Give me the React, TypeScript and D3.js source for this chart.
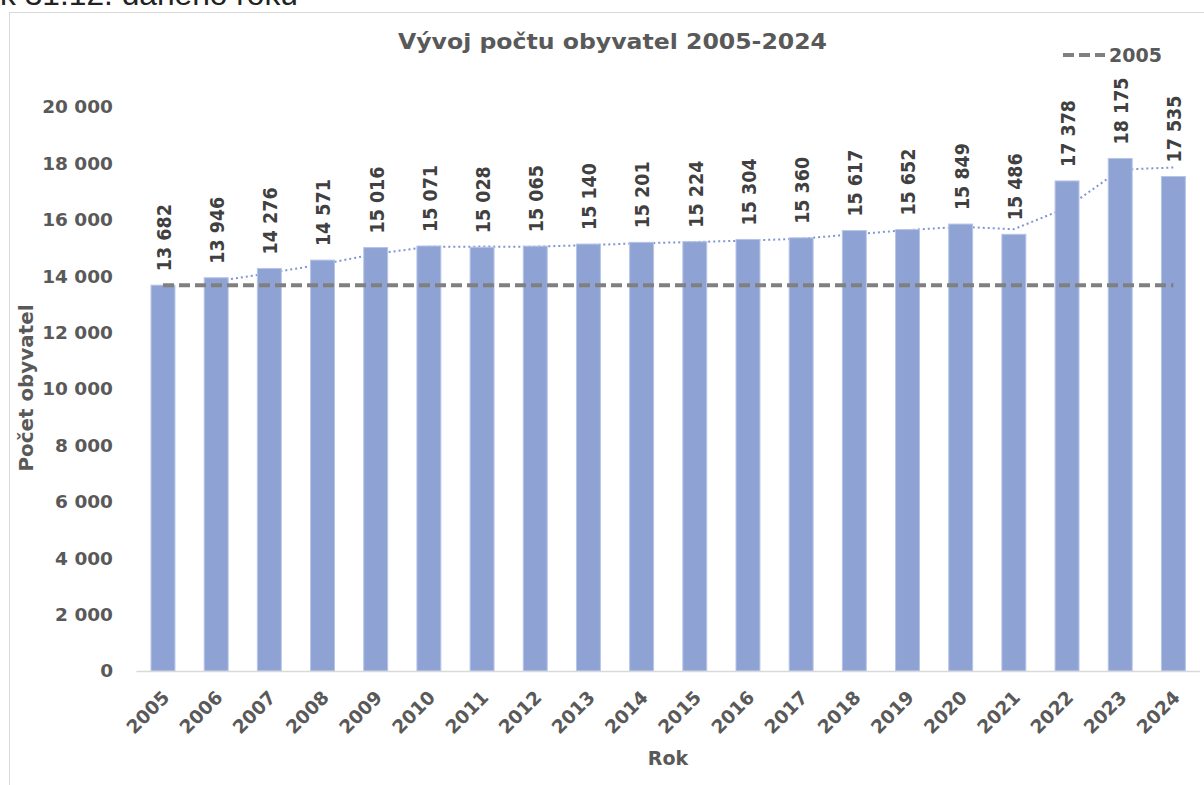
import React from "react";
import * as d3 from "d3";

const years = ["2005","2006","2007","2008","2009","2010","2011","2012","2013","2014","2015","2016","2017","2018","2019","2020","2021","2022","2023","2024"];
const population = [13682,13946,14276,14571,15016,15071,15028,15065,15140,15201,15224,15304,15360,15617,15652,15849,15486,17378,18175,17535];
const yTicks = [0,2000,4000,6000,8000,10000,12000,14000,16000,18000,20000];
const baselineLabel = "2005";
const title = "Vývoj počtu obyvatel 2005-2024";
const yTitle = "Počet obyvatel";
const xTitle = "Rok";
const topNote = "k 31.12. daného roku";

const W = 1204, H = 785;
const fmt = (v: number) => d3.format(",")(v).replace(/,/g, " ");

export default function App() {
  const x = d3.scaleBand<string>().domain(years).range([136.4, 1200]).paddingInner(0.55).paddingOuter(0.275);
  const y = d3.scaleLinear().domain([0, 20000]).range([671, 107]);
  const cx = (yr: string) => (x(yr) as number) + x.bandwidth() / 2;

  // 2-period moving average trendline
  const ma = population.slice(1).map((v, i) => ({ yr: years[i + 1], v: (v + population[i]) / 2 }));
  const trend = d3.line<{ yr: string; v: number }>().x(d => cx(d.yr)).y(d => y(d.v));
  const base = population[0];
  const baseLine = d3.line<string>().x(d => cx(d)).y(() => y(base));

  const font = "'DejaVu Sans', sans-serif";
  return (
    <div style={{ position: "absolute", left: 0, top: 0 }}>
      <svg width={W} height={H} style={{ display: "block", background: "#fff" }}>
        <text x={0} y={5} fontFamily="'Liberation Sans', sans-serif" fontSize={31} fill="#222" textLength={298} lengthAdjust="spacingAndGlyphs">{topNote}</text>
        <rect x={9.5} y={12.5} width={1210} height={800} fill="#fff" stroke="#d9d9d9" strokeWidth={1} />
        <text x={612.5} y={49} textAnchor="middle" fontFamily={font} fontWeight="bold" fontSize={21.5} fill="#595959" textLength={429} lengthAdjust="spacingAndGlyphs">{title}</text>
        {/* legend */}
        <line x1={1063} x2={1105} y1={55} y2={55} stroke="#808080" strokeWidth={4} strokeDasharray="11,5" />
        <text x={1109} y={62} fontFamily={font} fontWeight="bold" fontSize={19} fill="#595959">{baselineLabel}</text>
        {/* y ticks */}
        {yTicks.map(t => (
          <text key={t} x={113} y={y(t)} dy="0.35em" textAnchor="end" fontFamily={font} fontWeight="bold" fontSize={18.5} fill="#595959">{fmt(t)}</text>
        ))}
        <text transform={`translate(33,388) rotate(-90)`} textAnchor="middle" fontFamily={font} fontWeight="bold" fontSize={19} fill="#595959" textLength={167} lengthAdjust="spacingAndGlyphs">{yTitle}</text>
        {/* trendline behind bars */}
        <path d={trend(ma) || ""} fill="none" stroke="#7f96d4" strokeWidth={2} strokeDasharray="2,3" />
        {/* bars */}
        {years.map((yr, i) => (
          <rect key={yr} x={x(yr)} y={y(population[i])} width={x.bandwidth()} height={y(0) - y(population[i])} fill="#8ea3d4" stroke="#b6c4e8" strokeWidth={1} />
        ))}
        {/* baseline 2005 dashed */}
        <path d={baseLine(years) || ""} fill="none" stroke="#808080" strokeWidth={4} strokeDasharray="11,5" />
        {/* axis */}
        <line x1={136.4} x2={1200} y1={671.5} y2={671.5} stroke="#d9d9d9" strokeWidth={1.5} />
        {/* data labels */}
        {years.map((yr, i) => (
          <text key={yr} transform={`translate(${cx(yr) + 1},${y(population[i]) - 14}) rotate(-90)`} dy="0.35em" fontFamily={font} fontWeight="bold" fontSize={19.5} fill="#404040" textLength={67} lengthAdjust="spacingAndGlyphs">{fmt(population[i])}</text>
        ))}
        {/* x tick labels */}
        {years.map(yr => (
          <text key={yr} transform={`translate(${cx(yr) + 3},${694}) rotate(-45)`} textAnchor="end" dy="0.35em" fontFamily={font} fontWeight="bold" fontSize={18.5} fill="#595959">{yr}</text>
        ))}
        <text x={668} y={765} textAnchor="middle" fontFamily={font} fontWeight="bold" fontSize={19} fill="#595959">{xTitle}</text>
      </svg>
    </div>
  );
}
